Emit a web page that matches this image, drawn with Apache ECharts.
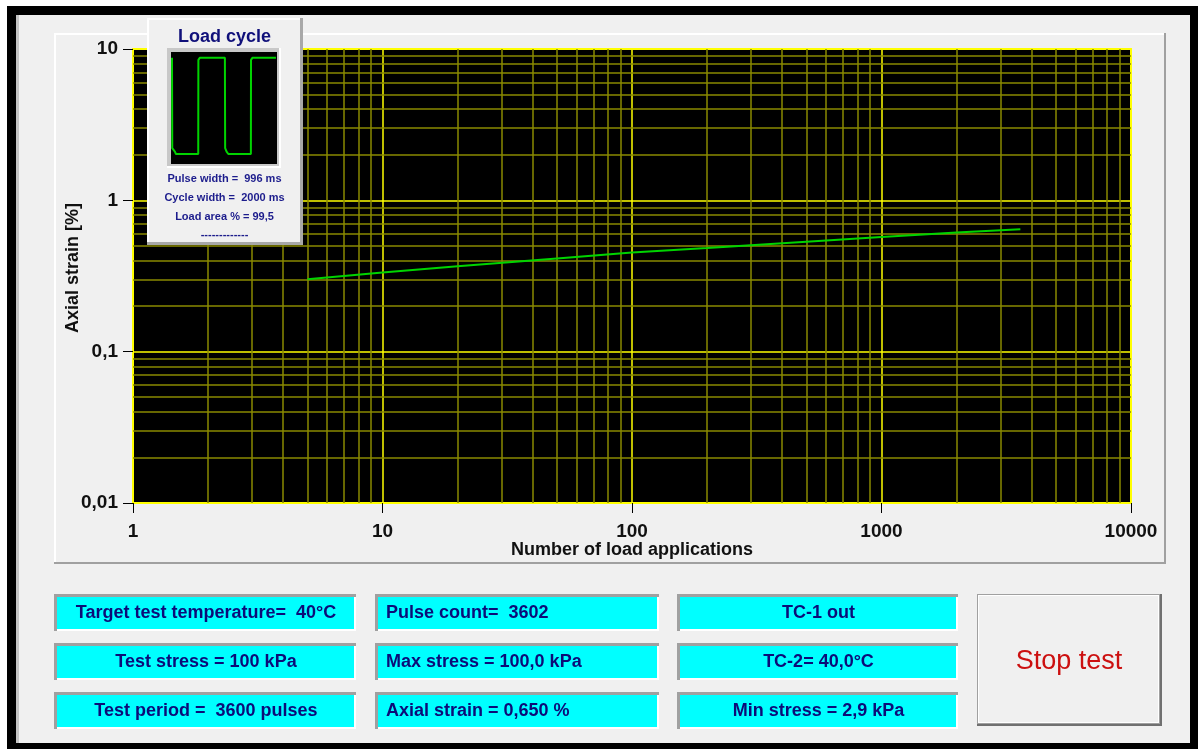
<!DOCTYPE html>
<html>
<head>
<meta charset="utf-8">
<script src="https://cdn.jsdelivr.net/npm/echarts@6/dist/echarts.min.js"></script>
<style>
html,body{margin:0;padding:0;background:#fff;}
#chart{width:1198px;height:749px;}
</style>
</head>
<body>
<div id="chart"></div>
<script>
// ---- data ----
const xTickLabels = ['1', '10', '100', '1000', '10000'];
const yTickLabels = ['0,01', '0,1', '1', '10'];
const loadApplications = [5, 10, 20, 50, 100, 200, 500, 1000, 2000, 3602];
const axialStrain = [0.301, 0.333, 0.367, 0.413, 0.452, 0.484, 0.533, 0.573, 0.612, 0.645];

// load cycle inset (time ms, stress kPa)
const cycleTime = [0, 10, 110, 150, 1000, 1005, 1065, 2015, 2025, 2080, 2145, 3005, 3010, 3070, 3960];
const cycleStress = [100, 8.7, 5.2, 2.9, 2.9, 97.7, 100, 100, 8.7, 5.2, 2.9, 2.9, 97.7, 100, 100];
const insetTitle = 'Load cycle';
const insetLines = ['Pulse width =  996 ms', 'Cycle width =  2000 ms', 'Load area % = 99,5', '-------------'];

// status boxes, by column
const statusCol1 = ['Target test temperature=  40°C', 'Test stress = 100 kPa', 'Test period =  3600 pulses'];
const statusCol2 = ['Pulse count=  3602', 'Max stress = 100,0 kPa', 'Axial strain = 0,650 %'];
const statusCol3 = ['TC-1 out', 'TC-2= 40,0°C', 'Min stress = 2,9 kPa'];
const buttonLabel = 'Stop test';
const xAxisTitle = 'Number of load applications';
const yAxisTitle = 'Axial strain [%]';

// minor grid positions (2..9 per decade)
const minorMult = [2, 3, 4, 5, 6, 7, 8, 9];
const xDecades = [1, 10, 100, 1000];
const yDecades = [0.01, 0.1, 1];

// ---- build ----
const FONT = "'Liberation Sans', Arial, sans-serif";
const NAVY = '#0c0c78';
const xMinor = [], yMinor = [];
xDecades.forEach(d => minorMult.forEach(m => xMinor.push(d * m)));
yDecades.forEach(d => minorMult.forEach(m => yMinor.push(+(d * m).toPrecision(3))));

const g = [];
// outer frame
g.push({type:'rect', z:-10, shape:{x:7,y:6,width:1191,height:743}, style:{fill:'#000'}});
g.push({type:'rect', z:-9, shape:{x:16,y:15,width:1174,height:728}, style:{fill:'#f0f0f0'}});
g.push({type:'rect', z:-8, shape:{x:16,y:15,width:3,height:728}, style:{fill:'#c4c4c4'}});
// chart panel
g.push({type:'rect', z:-8, shape:{x:54,y:33,width:1112,height:2}, style:{fill:'#ffffff'}});
g.push({type:'rect', z:-8, shape:{x:54,y:33,width:2,height:531}, style:{fill:'#ffffff'}});
g.push({type:'rect', z:-8, shape:{x:1164,y:33,width:2,height:531}, style:{fill:'#a0a0a0'}});
g.push({type:'rect', z:-8, shape:{x:54,y:562,width:1112,height:2}, style:{fill:'#a0a0a0'}});
// axis titles
g.push({type:'text', z:5, x:632, y:550, style:{text:xAxisTitle, font:'bold 18px ' + FONT, fill:'#111', align:'center', verticalAlign:'middle'}});
g.push({type:'text', z:5, x:73, y:268, rotation:Math.PI/2, style:{text:yAxisTitle, font:'bold 18px ' + FONT, fill:'#111', align:'center', verticalAlign:'middle'}});

// inset panel
g.push({type:'rect', z:20, shape:{x:147,y:18,width:155,height:226}, style:{fill:'#f0f0f0'}});
g.push({type:'rect', z:21, shape:{x:147,y:18,width:155,height:2}, style:{fill:'#ffffff'}});
g.push({type:'rect', z:21, shape:{x:147,y:18,width:2,height:226}, style:{fill:'#ffffff'}});
g.push({type:'rect', z:21, shape:{x:300,y:18,width:3,height:227}, style:{fill:'#a8a8a8'}});
g.push({type:'rect', z:21, shape:{x:147,y:242,width:156,height:3}, style:{fill:'#a8a8a8'}});
g.push({type:'rect', z:21, shape:{x:167,y:48,width:114,height:120}, style:{fill:'#ffffff'}});
g.push({type:'rect', z:21, shape:{x:167,y:48,width:112,height:118}, style:{fill:'#c8c8c8'}});
g.push({type:'rect', z:22, shape:{x:171,y:52,width:106,height:112}, style:{fill:'#000'}});
g.push({type:'text', z:23, x:224.5, y:37, style:{text:insetTitle, font:'bold 18px ' + FONT, fill:'#10107a', align:'center', verticalAlign:'middle'}});
const insetY = [179, 198, 217, 235];
insetLines.forEach((t, i) => g.push({type:'text', z:23, x:224.5, y:insetY[i], style:{text:t, font:'bold 11px ' + FONT, fill:'#1c1c8c', align:'center', verticalAlign:'middle'}}));

// status boxes
const cols = [
  {x:54, w:302, items:statusCol1, align:'center'},
  {x:375, w:284, items:statusCol2, align:'left'},
  {x:677, w:281, items:statusCol3, align:'center'}
];
const rowY = [594, 643, 692];
cols.forEach(c => {
  c.items.forEach((t, i) => {
    const y = rowY[i], h = 37;
    g.push({type:'rect', z:-5, shape:{x:c.x,y:y,width:c.w,height:h}, style:{fill:'#a0a0a0'}});
    g.push({type:'rect', z:-5, shape:{x:c.x+3,y:y+3,width:c.w-3,height:h-3}, style:{fill:'#ffffff'}});
    g.push({type:'rect', z:-5, shape:{x:c.x+3,y:y+3,width:c.w-5,height:h-5}, style:{fill:'#00ffff'}});
    g.push({type:'text', z:-4, x: c.align === 'center' ? c.x + c.w/2 + 1 : c.x + 11, y: y + h/2 + 1,
      style:{text:t, font:'bold 18px ' + FONT, fill:NAVY, align:c.align, verticalAlign:'middle'}});
  });
});
// stop button
g.push({type:'rect', z:-5, shape:{x:977,y:594,width:185,height:132}, style:{fill:'#707070'}});
g.push({type:'rect', z:-5, shape:{x:977,y:594,width:183,height:130}, style:{fill:'#a0a0a0'}});
g.push({type:'rect', z:-5, shape:{x:978,y:595,width:181,height:128}, style:{fill:'#ffffff'}});
g.push({type:'rect', z:-5, shape:{x:979,y:596,width:179,height:126}, style:{fill:'#f0f0f0'}});
g.push({type:'text', z:-4, x:1069, y:662, style:{text:buttonLabel, font:'27px ' + FONT, fill:'#cc1010', align:'center', verticalAlign:'middle'}});

const chart = echarts.init(document.getElementById('chart'), null, {renderer:'canvas'});
chart.setOption({
  animation: false,
  backgroundColor: '#ffffff',
  graphic: {elements: g},
  grid: [
    {left:133, top:49, width:998, height:454, show:true, backgroundColor:'#000', borderColor:'#ffff00', borderWidth:2, containLabel:false},
    {left:171, top:52, width:106, height:112, show:false, z:25}
  ],
  xAxis: [
    {type:'log', logBase:10, min:1, max:10000, gridIndex:0,
     axisLine:{show:false},
     axisTick:{show:true, length:10, inside:false, lineStyle:{color:'#000', width:1}},
     axisLabel:{margin:19, color:'#111', fontFamily:FONT, fontWeight:'bold', fontSize:19,
       formatter: v => xTickLabels[Math.round(Math.log10(v))]},
     splitLine:{show:true, lineStyle:{color:'#ffff00', width:1.5}},
     minorTick:{show:false}, minorSplitLine:{show:false}},
    {type:'value', gridIndex:1, min:-38, max:4000, show:false}
  ],
  yAxis: [
    {type:'log', logBase:10, min:0.01, max:10, gridIndex:0,
     axisLine:{show:false},
     axisTick:{show:true, length:10, inside:false, lineStyle:{color:'#000', width:1}},
     axisLabel:{margin:15, color:'#111', fontFamily:FONT, fontWeight:'bold', fontSize:19,
       formatter: v => yTickLabels[Math.round(Math.log10(v)) + 2]},
     splitLine:{show:true, lineStyle:{color:'#ffff00', width:1.5}}},
    {type:'value', gridIndex:1, min:-7.2, max:105.7, show:false}
  ],
  series: [
    {type:'line', xAxisIndex:0, yAxisIndex:0, data:[], silent:true, z:3,
     markLine:{silent:true, symbol:'none', label:{show:false}, animation:false, z:3,
       lineStyle:{color:'#8a8a00', width:1.5, type:'solid'},
       emphasis:{disabled:true},
       data: xMinor.map(v => ({xAxis:v})).concat(yMinor.map(v => ({yAxis:v})))}},
    {type:'line', xAxisIndex:0, yAxisIndex:0, z:10, silent:true,
     data: loadApplications.map((n, i) => [n, axialStrain[i]]),
     showSymbol:false, symbol:'none',
     lineStyle:{color:'#00d400', width:2}},
    {type:'line', xAxisIndex:1, yAxisIndex:1, z:30, silent:true,
     data: cycleTime.map((t, i) => [t, cycleStress[i]]),
     showSymbol:false, symbol:'none',
     lineStyle:{color:'#00d400', width:2}}
  ]
});
</script>
</body>
</html>
